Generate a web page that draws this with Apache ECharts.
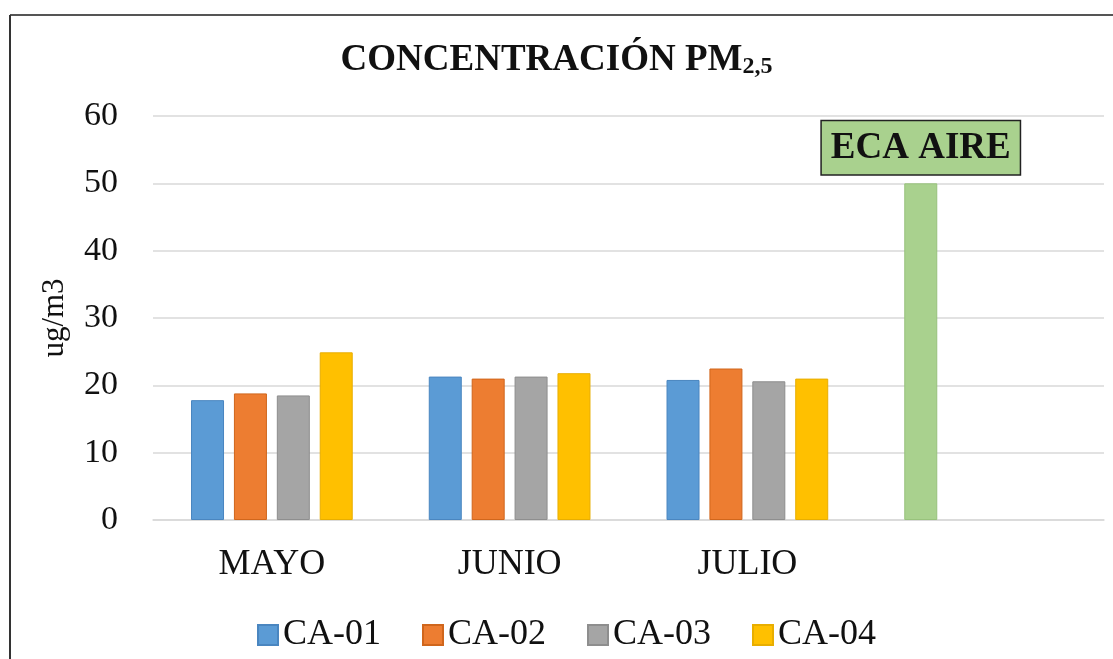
<!DOCTYPE html>
<html>
<head>
<meta charset="utf-8">
<title>Concentración PM2,5</title>
<script src="https://cdn.jsdelivr.net/npm/echarts@6/dist/echarts.min.js"></script>
<style>
  html, body { margin: 0; padding: 0; background: #fff; }
  #chart { width: 1113px; height: 659px; }
</style>
</head>
<body>
<div id="chart"></div>
<script>
// categorias (la cuarta es el hueco del ECA)
const categories = ["MAYO", "JUNIO", "JULIO", ""];
const seriesNames = ["CA-01", "CA-02", "CA-03", "CA-04"];
const ca01 = [17.8, 21.3, 20.8];
const ca02 = [18.8, 21.0, 22.5];
const ca03 = [18.5, 21.3, 20.6];
const ca04 = [24.9, 21.8, 21.0];
const ecaAire = 50;
const ecaLabel = "ECA AIRE";
const yTicks = [0, 10, 20, 30, 40, 50, 60];

const colors = ["#5B9BD5", "#ED7D31", "#A5A5A5", "#FFC000"];
const borders = ["#4A86C0", "#D0661C", "#8E8E8E", "#E8AE00"];
const font = "'Liberation Serif', 'Times New Roman', serif";

function makeSeries(name, values, i) {
  const data = values.slice();
  if (i === 0) {
    data.push({
      value: ecaAire,
      itemStyle: { color: "#A9D18E", borderColor: "#98C27C" },
      label: {
        show: true,
        position: "top",
        distance: 9,
        formatter: ecaLabel,
        fontFamily: font,
        fontWeight: "bold",
        fontSize: 37,
        color: "#111",
        backgroundColor: "#A9D18E",
        borderColor: "#222",
        borderWidth: 1.5,
        padding: [9, 9, 7, 9]
      }
    });
  } else {
    data.push(null);
  }
  return {
    name: name,
    type: "bar",
    barWidth: 33,
    barGap: "30%",
    itemStyle: { color: colors[i], borderColor: borders[i], borderWidth: 1 },
    data: data
  };
}

const chart = echarts.init(document.getElementById("chart"));
chart.setOption({
  animation: false,
  color: colors,
  title: {
    text: "{a|CONCENTRACIÓN PM}{b|2,5}",
    left: "center",
    top: 36,
    textStyle: {
      rich: {
        a: { fontFamily: font, fontWeight: "bold", fontSize: 37, color: "#111" },
        b: { fontFamily: font, fontWeight: "bold", fontSize: 24, color: "#111", verticalAlign: "bottom", padding: [14, 0, 0, 0] }
      }
    }
  },
  legend: {
    data: seriesNames,
    top: 612,
    left: 252,
    itemWidth: 20,
    itemHeight: 20,
    itemGap: 41,
    icon: "rect",
    textStyle: { fontFamily: font, fontSize: 36, color: "#111" }
  },
  grid: { left: 153, right: 9, top: 116, bottom: 139 },
  xAxis: {
    type: "category",
    data: categories,
    axisTick: { show: false },
    axisLine: { lineStyle: { color: "#D9D9D9", width: 1.5 } },
    axisLabel: { fontFamily: font, fontSize: 36, color: "#111", margin: 27 }
  },
  yAxis: {
    type: "value",
    min: yTicks[0],
    max: yTicks[yTicks.length - 1],
    interval: 10,
    name: "ug/m3",
    nameLocation: "middle",
    nameGap: 83,
    nameTextStyle: { fontFamily: font, fontSize: 31, color: "#111" },
    axisLine: { show: false },
    axisTick: { show: false },
    splitLine: { lineStyle: { color: "#D9D9D9", width: 1.5 } },
    axisLabel: { fontFamily: font, fontSize: 34, color: "#111", margin: 35 }
  },
  graphic: [
    { type: "line", shape: { x1: 10, y1: 15, x2: 1113, y2: 15 }, style: { stroke: "#555", lineWidth: 2 } },
    { type: "line", shape: { x1: 10, y1: 15, x2: 10, y2: 659 }, style: { stroke: "#333", lineWidth: 2 } }
  ],
  series: [ca01, ca02, ca03, ca04].map((v, i) => makeSeries(seriesNames[i], v, i))
});
</script>
</body>
</html>
